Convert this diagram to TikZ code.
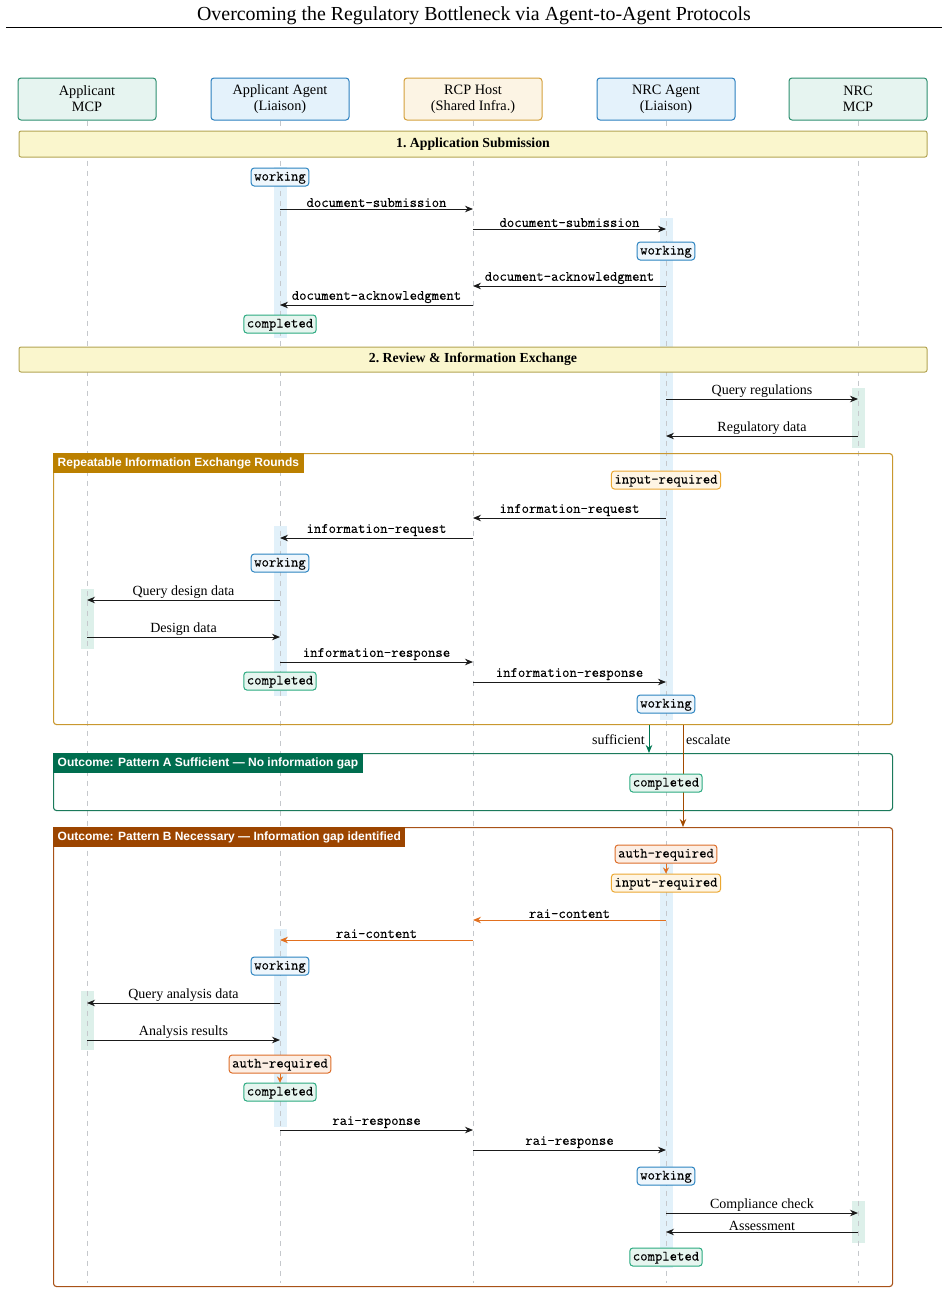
\documentclass[tikz,border=0pt]{standalone}
\usepackage{fontspec}
\setmainfont{Liberation Serif}
\setmonofont{Latin Modern Mono}[FakeBold=0.25]
\newfontfamily\tabfont{Liberation Sans}
\usetikzlibrary{arrows.meta,calc}
\definecolor{mcpfill}{HTML}{E6F4F0}
\definecolor{mcpdraw}{HTML}{2D8F6F}
\definecolor{agfill}{HTML}{E4F2FB}
\definecolor{agdraw}{HTML}{2B7FBF}
\definecolor{rcpfill}{HTML}{FCF4E4}
\definecolor{rcpdraw}{HTML}{D4A03C}
\definecolor{phfill}{HTML}{FAF6CD}
\definecolor{phdraw}{HTML}{B3A453}
\definecolor{wkfill}{HTML}{EEF6FC}
\definecolor{wkdraw}{HTML}{2B83C0}
\definecolor{cpfill}{HTML}{E6F5EF}
\definecolor{cpdraw}{HTML}{2BAA80}
\definecolor{irfill}{HTML}{FEF5E4}
\definecolor{irdraw}{HTML}{EBA832}
\definecolor{arfill}{HTML}{FCEEE4}
\definecolor{ardraw}{HTML}{DD6E2A}
\definecolor{barblue}{HTML}{E2F1FA}
\definecolor{bargreen}{HTML}{DDF0EA}
\definecolor{repdraw}{HTML}{C9982F}
\definecolor{reptab}{HTML}{BB8000}
\definecolor{padraw}{HTML}{1B7A5B}
\definecolor{patab}{HTML}{006E4F}
\definecolor{pbdraw}{HTML}{A85218}
\definecolor{pbtab}{HTML}{9C4500}
\definecolor{orarrow}{HTML}{E2701F}
\definecolor{escol}{HTML}{A24A00}
\definecolor{sufcol}{HTML}{007752}
\definecolor{lifecol}{HTML}{C5C8CC}
\definecolor{msgcol}{HTML}{1A1A1A}
\tikzset{
  hdr/.style={draw, rounded corners=3pt, line width=1pt, minimum width=138pt, minimum height=42pt, align=center, font=\fontsize{14.3}{16}\selectfont, inner sep=0pt},
  life/.style={draw=lifecol, line width=0.9pt, dash pattern=on 5pt off 5pt},
  phase/.style={draw=phdraw, fill=phfill, line width=1pt, rounded corners=2pt, minimum width=908pt, inner sep=0pt, font=\fontsize{13.8}{15}\selectfont\bfseries},
  grp/.style={rounded corners=3pt, line width=1.1pt, minimum width=839pt, anchor=north west, inner sep=0pt},
  tabn/.style={anchor=north west, text=white, inner xsep=4.5pt, inner ysep=4pt, text height=9pt, text depth=2.6pt, font=\tabfont\bfseries\fontsize{12}{14}\selectfont},
  st/.style={rounded corners=3pt, line width=1pt, font=\fontsize{14.3}{14}\selectfont\ttfamily, inner xsep=3pt, inner ysep=3pt, text height=9.5pt, text depth=2.5pt},
  wk/.style={st, draw=wkdraw, fill=wkfill},
  cp/.style={st, draw=cpdraw, fill=cpfill},
  ir/.style={st, draw=irdraw, fill=irfill},
  ar/.style={st, draw=ardraw, fill=arfill},
  msg/.style={draw=msgcol, line width=0.9pt, -{Stealth[length=8pt,width=6.5pt]}},
  omsg/.style={draw=orarrow, line width=0.9pt, -{Stealth[length=8pt,width=6.5pt]}},
  lbl/.style={above, inner sep=1.5pt, font=\fontsize{14}{15}\selectfont},
  mlbl/.style={above, inner sep=1.5pt, font=\fontsize{14.3}{14}\selectfont\ttfamily},
}
\begin{document}
\begin{tikzpicture}[x=1pt,y=-1pt]
\useasboundingbox (0,0) rectangle (948,1294);
% title
\node[anchor=base, font=\fontsize{19.9}{22}\selectfont] (T) at (474,20) {Overcoming the Regulatory Bottleneck via Agent-to-Agent Protocols};
\draw[line width=0.8pt] (6,27) -- (942,27);
% headers
\node[hdr, draw=mcpdraw, fill=mcpfill] (AM) at (87,99) {Applicant\\MCP};
\node[hdr, draw=agdraw, fill=agfill] (AA) at (280,99) {Applicant Agent\\(Liaison)};
\node[hdr, draw=rcpdraw, fill=rcpfill] (RH) at (473,99) {RCP Host\\(Shared Infra.)};
\node[hdr, draw=agdraw, fill=agfill] (NA) at (666,99) {NRC Agent\\(Liaison)};
\node[hdr, draw=mcpdraw, fill=mcpfill] (NM) at (858,99) {NRC\\MCP};
% activation bars
\fill[barblue] (273.5,167) rectangle (286.5,338);
\fill[barblue] (273.5,526) rectangle (286.5,696);
\fill[barblue] (273.5,929) rectangle (286.5,1127);
\fill[barblue] (659.5,218) rectangle (672.5,720);
\fill[barblue] (659.5,845) rectangle (672.5,1268);
\fill[bargreen] (851.5,388) rectangle (864.5,448);
\fill[bargreen] (851.5,1201) rectangle (864.5,1243);
\fill[bargreen] (80.5,589) rectangle (93.5,649);
\fill[bargreen] (80.5,991) rectangle (93.5,1050);
% lifelines
\coordinate (AMe) at (87,1283);
\coordinate (AAe) at (280,1283);
\coordinate (RHe) at (473,1283);
\coordinate (NAe) at (666,1283);
\coordinate (NMe) at (858,1283);
\draw[life] (AM.south) -- (AMe);
\draw[life] (AA.south) -- (AAe);
\draw[life] (RH.south) -- (RHe);
\draw[life] (NA.south) -- (NAe);
\draw[life] (NM.south) -- (NMe);
% phase bars
\node[phase, minimum height=26pt] (P1) at (473,144) {1.\ Application Submission};
\node[phase, minimum height=25pt] (P2) at (473,359.5) {2.\ Review \& Information Exchange};
% group boxes
\node[grp, draw=repdraw, minimum height=271pt] (REP) at (53,453) {};
\node[tabn, fill=reptab] (REPt) at (REP.north west) {Repeatable Information Exchange Rounds};
\node[grp, draw=padraw, minimum height=57pt] (PA) at (53,753) {};
\node[tabn, fill=patab] (PAt) at (PA.north west) {Outcome: Pattern A Sufficient — No information gap};
\node[grp, draw=pbdraw, minimum height=459pt] (PB) at (53,827) {};
\node[tabn, fill=pbtab] (PBt) at (PB.north west) {Outcome: Pattern B Necessary — Information gap identified};
% phase 1
\node[wk] (s1) at (280,177) {working};
\draw[msg] (AA.center |- 0,209) -- node[mlbl]{document-submission} (RH.center |- 0,209);
\draw[msg] (RH.center |- 0,229) -- node[mlbl]{document-submission} (NA.center |- 0,229);
\node[wk] (s2) at (666,251) {working};
\draw[msg] (NA.center |- 0,286) -- node[mlbl]{document-acknowledgment} (RH.center |- 0,286);
\draw[msg] (RH.center |- 0,305) -- node[mlbl]{document-acknowledgment} (AA.center |- 0,305);
\node[cp] (s3) at (280,324) {completed};
% phase 2
\draw[msg] (NA.center |- 0,399) -- node[lbl]{Query regulations} (NM.center |- 0,399);
\draw[msg] (NM.center |- 0,436) -- node[lbl]{Regulatory data} (NA.center |- 0,436);
\node[ir] (s4) at (666,480) {input-required};
\draw[msg] (NA.center |- 0,518) -- node[mlbl]{information-request} (RH.center |- 0,518);
\draw[msg] (RH.center |- 0,538) -- node[mlbl]{information-request} (AA.center |- 0,538);
\node[wk] (s5) at (280,563) {working};
\draw[msg] (AA.center |- 0,600) -- node[lbl]{Query design data} (AM.center |- 0,600);
\draw[msg] (AM.center |- 0,637) -- node[lbl]{Design data} (AA.center |- 0,637);
\draw[msg] (AA.center |- 0,662) -- node[mlbl]{information-response} (RH.center |- 0,662);
\draw[msg] (RH.center |- 0,682) -- node[mlbl]{information-response} (NA.center |- 0,682);
\node[cp] (s6) at (280,681) {completed};
\node[wk] (s7) at (666,704) {working};
% outcomes
\draw[sufcol, line width=1pt, -{Stealth[length=8pt,width=6.5pt]}] (REP.south -| 649,0) -- (PA.north -| 649,0);
\node[anchor=east, inner sep=0pt, font=\fontsize{14}{15}\selectfont] (suf) at (645,740) {sufficient};
\draw[escol, line width=1pt, -{Stealth[length=8pt,width=6.5pt]}] (REP.south -| 683,0) -- (PB.north -| 683,0);
\node[anchor=west, inner sep=0pt, font=\fontsize{14}{15}\selectfont] (esc) at (686,740) {escalate};
\node[cp] (s8) at (666,783) {completed};
% pattern B
\node[ar] (s9) at (666,854) {auth-required};
\node[ir] (s10) at (666,883) {input-required};
\draw[orarrow, line width=0.9pt, -{Stealth[length=6pt,width=6pt]}] (s9.south) -- (s10.north);
\draw[omsg] (NA.center |- 0,920) -- node[mlbl]{rai-content} (RH.center |- 0,920);
\draw[omsg] (RH.center |- 0,940) -- node[mlbl]{rai-content} (AA.center |- 0,940);
\node[wk] (s11) at (280,966) {working};
\draw[msg] (AA.center |- 0,1003) -- node[lbl]{Query analysis data} (AM.center |- 0,1003);
\draw[msg] (AM.center |- 0,1040) -- node[lbl]{Analysis results} (AA.center |- 0,1040);
\node[ar] (s12) at (280,1064) {auth-required};
\node[cp] (s13) at (280,1092) {completed};
\draw[orarrow, line width=0.9pt, -{Stealth[length=6pt,width=6pt]}] (s12.south) -- (s13.north);
\draw[msg] (AA.center |- 0,1130) -- node[mlbl]{rai-response} (RH.center |- 0,1130);
\draw[msg] (RH.center |- 0,1150) -- node[mlbl]{rai-response} (NA.center |- 0,1150);
\node[wk] (s14) at (666,1176) {working};
\draw[msg] (NA.center |- 0,1213) -- node[lbl]{Compliance check} (NM.center |- 0,1213);
\draw[msg] (NM.center |- 0,1232) -- node[lbl, inner sep=0.5pt]{Assessment} (NA.center |- 0,1232);
\node[cp] (s15) at (666,1257) {completed};
\end{tikzpicture}
\end{document}
